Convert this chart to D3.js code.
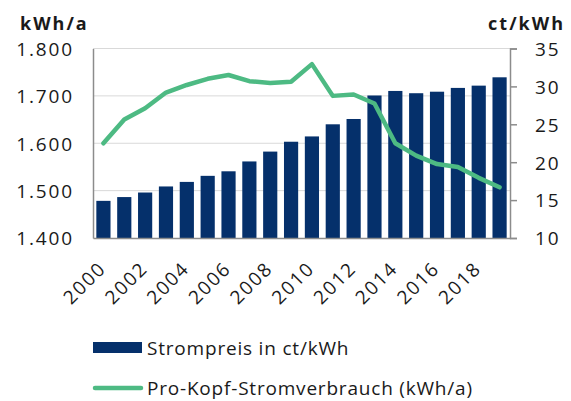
<!DOCTYPE html>
<html>
<head>
<meta charset="utf-8">
<script src="https://cdn.jsdelivr.net/npm/d3@7"></script>
<style>
  body { margin: 0; background: #fff; }
  svg { font-family: 'Open Sans', sans-serif; }
</style>
</head>
<body>
<svg id="chart" width="571" height="401"></svg>
<script>
const years = [2000, 2001, 2002, 2003, 2004, 2005, 2006, 2007, 2008, 2009,
  2010, 2011, 2012, 2013, 2014, 2015, 2016, 2017, 2018, 2019];
// Strompreis in ct/kWh (right axis)
const price = [14.9, 15.4, 16.0, 16.8, 17.4, 18.2, 18.8, 20.1, 21.4, 22.7,
  23.4, 25.0, 25.7, 28.8, 29.4, 29.1, 29.3, 29.8, 30.1, 31.2];
// Pro-Kopf-Stromverbrauch in kWh/a (left axis)
const consumption = [1600, 1650, 1674, 1707, 1723, 1736, 1744, 1731, 1727, 1730,
  1767, 1700, 1703, 1684, 1600, 1574, 1556, 1550, 1527, 1507];
const leftTicks = [1400, 1500, 1600, 1700, 1800];
const rightTicks = [10, 15, 20, 25, 30, 35];
const labelYears = [2000, 2002, 2004, 2006, 2008, 2010, 2012, 2014, 2016, 2018];

const svg = d3.select('#chart');
const plotLeft = 93, plotRight = 510, plotTop = 48.5, plotBottom = 238;
const navy = '#05306b';
const green = '#4dba83';
const textColor = '#1a1a1a';

const x = d3.scaleBand().domain(years).range([plotLeft, plotRight]).paddingInner(0.32).paddingOuter(0.16);
const yL = d3.scaleLinear().domain([1400, 1800]).range([plotBottom, plotTop]);
const yR = d3.scaleLinear().domain([10, 35]).range([plotBottom, plotTop]);

// gridlines
svg.append('g')
  .selectAll('line')
  .data(leftTicks.slice(1))
  .enter()
  .append('line')
  .attr('x1', plotLeft)
  .attr('x2', plotRight)
  .attr('y1', (d) => yL(d))
  .attr('y2', (d) => yL(d))
  .attr('stroke', '#d9d9d9')
  .attr('stroke-width', 1);

// bars
svg.append('g')
  .selectAll('rect')
  .data(years)
  .enter()
  .append('rect')
  .attr('x', (d) => x(d))
  .attr('width', x.bandwidth())
  .attr('y', (d, i) => yR(price[i]))
  .attr('height', (d, i) => plotBottom - yR(price[i]))
  .attr('fill', navy);

// line
const line = d3.line()
  .x((d, i) => x(years[i]) + x.bandwidth() / 2)
  .y((d) => yL(d));
svg.append('path')
  .datum(consumption)
  .attr('d', line)
  .attr('fill', 'none')
  .attr('stroke', green)
  .attr('stroke-width', 4.5)
  .attr('stroke-linejoin', 'round')
  .attr('stroke-linecap', 'round');

// axes
const gLeft = svg.append('g')
  .attr('transform', 'translate(' + plotLeft + ',0)')
  .call(d3.axisLeft(yL).tickValues(leftTicks).tickSize(0).tickPadding(21)
    .tickFormat((d) => d3.format(',')(d).replace(',', '.')));
const gRight = svg.append('g')
  .attr('transform', 'translate(' + plotRight + ',0)')
  .call(d3.axisRight(yR).tickValues(rightTicks).tickSize(7).tickPadding(18));
const gBottom = svg.append('g')
  .attr('transform', 'translate(0,' + plotBottom + ')')
  .call(d3.axisBottom(x).tickValues(labelYears).tickSize(0).tickSizeOuter(0).tickPadding(0));

[gLeft, gRight, gBottom].forEach((g) => {
  g.select('.domain').attr('stroke', '#8c8c8c').attr('stroke-width', 1.5);
  g.selectAll('.tick line').attr('stroke', '#8c8c8c').attr('stroke-width', 1.5);
  g.selectAll('text').attr('font-size', '19px').attr('fill', textColor)
    .attr('font-family', "'Open Sans', sans-serif")
    .attr('letter-spacing', '1.8px');
});
gLeft.selectAll('text').attr('dy', '0.36em').attr('dx', '1.8px');
gRight.selectAll('text').attr('dy', '0.36em');
gBottom.selectAll('text')
  .attr('text-anchor', 'end')
  .attr('dy', '0.35em')
  .attr('transform', 'translate(-1,27) rotate(-45)');

// axis titles
svg.append('text')
  .attr('x', 20)
  .attr('y', 30)
  .attr('font-size', '18px')
  .attr('font-weight', 'bold')
  .attr('letter-spacing', '2px')
  .attr('fill', textColor)
  .text('kWh/a');
svg.append('text')
  .attr('x', 565)
  .attr('y', 30)
  .attr('text-anchor', 'end')
  .attr('font-size', '18px')
  .attr('font-weight', 'bold')
  .attr('letter-spacing', '2px')
  .attr('fill', textColor)
  .text('ct/kWh');

// legend
const legend = svg.append('g');
legend.append('rect')
  .attr('x', 93).attr('y', 342).attr('width', 49).attr('height', 11)
  .attr('fill', navy);
legend.append('text')
  .attr('x', 147).attr('y', 355)
  .attr('font-size', '19px').attr('letter-spacing', '0.8px').attr('fill', textColor)
  .text('Strompreis in ct/kWh');
legend.append('line')
  .attr('x1', 95).attr('x2', 141).attr('y1', 388).attr('y2', 388)
  .attr('stroke', green).attr('stroke-width', 4.5).attr('stroke-linecap', 'round');
legend.append('text')
  .attr('x', 147).attr('y', 395)
  .attr('font-size', '19px').attr('letter-spacing', '0.8px').attr('fill', textColor)
  .text('Pro-Kopf-Stromverbrauch (kWh/a)');
</script>
</body>
</html>
